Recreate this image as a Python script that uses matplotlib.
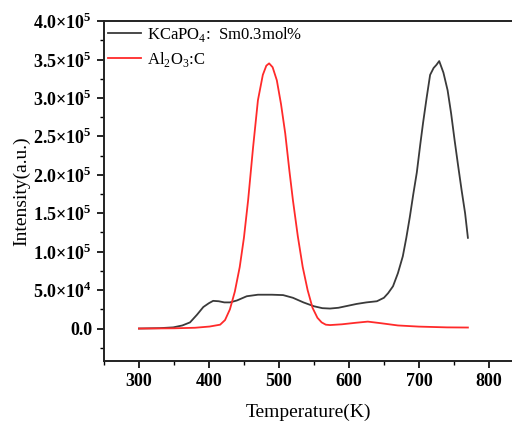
import numpy as np
import matplotlib
matplotlib.use('Agg')
import matplotlib.pyplot as plt
from matplotlib.ticker import MultipleLocator, FuncFormatter

plt.rcParams['font.family'] = ['Liberation Serif', 'DejaVu Serif']
plt.rcParams['mathtext.fontset'] = 'custom'
plt.rcParams['mathtext.rm'] = 'Liberation Serif'
plt.rcParams['mathtext.bf'] = 'Liberation Serif:bold'

# KCaPO4:Sm0.3mol% glow curve
t_k = [300, 330, 349, 362, 373, 383, 392, 400, 406, 414, 422, 430, 440, 454, 470, 490,
       506, 520, 535, 550, 562, 573, 585, 598, 611, 625, 640, 650, 656, 663, 670, 677,
       682, 687, 692, 697, 702, 706, 711, 716, 721, 725, 729, 735, 741, 746, 751, 756,
       761, 766, 770]
i_k = [0, 500, 1500, 4000, 8000, 18000, 28000, 33000, 36000, 35500, 34000, 34000, 36500, 42000, 44000, 44000,
       43500, 40000, 34000, 29000, 26500, 26000, 27000, 29500, 32000, 34000, 35500, 40000, 46000, 55000, 72000, 94000,
       118000, 145000, 175000, 203000, 240000, 268000, 300000, 330000, 339000, 343000, 348000, 333000, 310000, 280000, 245000, 212000,
       180000, 150000, 118000]

# Al2O3:C reference
t_a = [300, 350, 380, 401, 416, 423, 430, 437, 444, 450, 456, 463, 470, 477, 482, 486,
       491, 497, 503, 509, 515, 520, 527, 534, 541, 548, 555, 561, 567, 573, 590, 610,
       627, 645, 670, 700, 740, 770]
i_a = [0, 300, 1000, 2600, 5000, 11000, 25000, 48000, 80000, 118000, 167000, 235000, 297000, 330000, 342000, 345000,
       340000, 323000, 292000, 254000, 205000, 167000, 120000, 80000, 50000, 27000, 14000, 8000, 5000, 4500, 5500, 7500,
       9000, 7000, 4000, 2500, 1500, 1300]

fig = plt.figure(figsize=(5.12, 4.22), dpi=100)
ax = fig.add_axes([0.203, 0.145, 0.797, 0.805])

ax.plot(t_k, i_k, color='#3a3a3a', lw=1.3, label='KCaPO$_4$:  Sm0.3mol%')
ax.plot(t_a, i_a, color='#ff2a2a', lw=1.3, label='Al$_2$O$_3$:C')

ax.set_xlim(250, 833)
ax.set_ylim(-42000, 400000)
ax.xaxis.set_major_locator(MultipleLocator(100))
ax.xaxis.set_minor_locator(MultipleLocator(50))
ax.yaxis.set_major_locator(MultipleLocator(50000))
ax.yaxis.set_minor_locator(MultipleLocator(25000))

def yfmt(v, pos):
    if abs(v) < 1:
        return '0.0'
    e = int(np.floor(np.log10(abs(v))))
    m = v / 10 ** e
    return '%.1f×10$^\\mathbf{%d}$' % (m, e)

ax.yaxis.set_major_formatter(FuncFormatter(yfmt))
ax.xaxis.set_major_formatter(FuncFormatter(lambda v, p: '%d' % v if 300 <= v <= 800 else ''))

ax.tick_params(labelsize=13, width=1.2, length=5, direction='out')
ax.tick_params(which='minor', width=1.0, length=3)
for tl in ax.get_xticklabels() + ax.get_yticklabels():
    tl.set_fontweight('bold')

ax.spines['right'].set_visible(False)
for s in ['left', 'bottom', 'top']:
    ax.spines[s].set_linewidth(1.4)
    ax.spines[s].set_color('#222222')

ax.set_xlabel('Temperature(K)', fontsize=14, labelpad=10)
ax.set_ylabel('Intensity(a.u.)', fontsize=14, labelpad=2)

ax.legend(loc='upper left', frameon=False, fontsize=12, handlelength=2.0,
          handletextpad=0.35, borderaxespad=0.0, borderpad=0.25, labelspacing=0.35)

fig.savefig('out.png', dpi=100)
